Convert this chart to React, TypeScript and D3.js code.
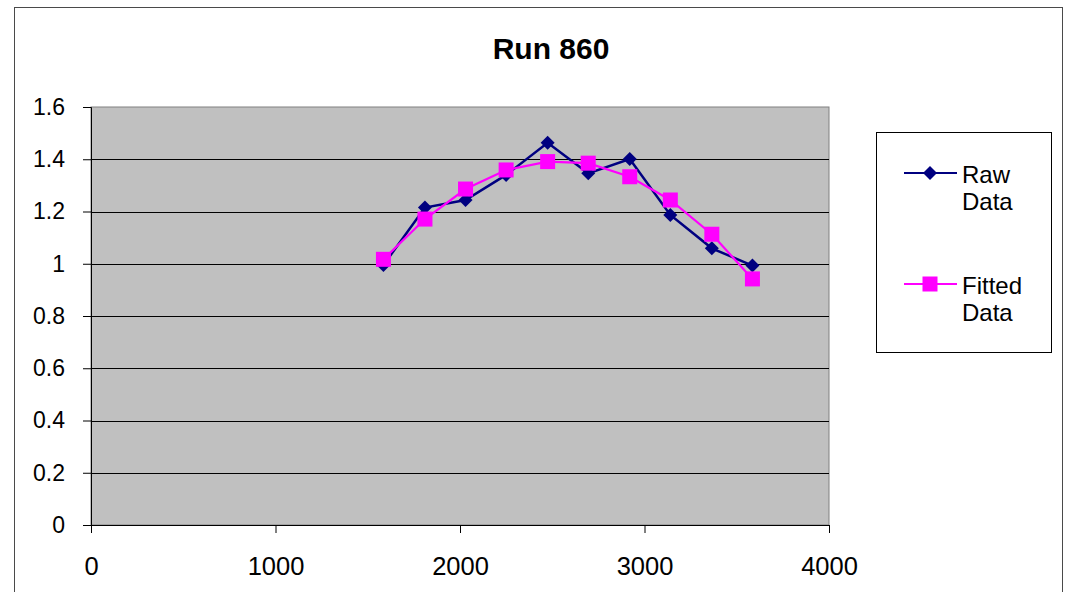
import { useEffect, useRef } from "react";
import * as d3 from "d3";

const RAW_X = [1585, 1810, 2030, 2250, 2475, 2695, 2920, 3140, 3365, 3585];
const RAW_Y = [0.995, 1.215, 1.244, 1.34, 1.463, 1.346, 1.401, 1.187, 1.059, 0.993];
const FIT_Y = [1.017, 1.171, 1.286, 1.359, 1.391, 1.385, 1.333, 1.244, 1.113, 0.942];
const X_TICKS = [0, 1000, 2000, 3000, 4000];
const Y_TICKS = [0, 0.2, 0.4, 0.6, 0.8, 1, 1.2, 1.4, 1.6];

const NAVY = "#000080";
const MAGENTA = "#FF00FF";
const FONT = "'Liberation Sans', Arial, sans-serif";

export default function App() {
  const ref = useRef<SVGSVGElement>(null);

  useEffect(() => {
    if (!ref.current) return;
    const W = 1068, H = 592;
    const L = 91, R = 829, T = 107, B = 525;

    const svg = d3.select(ref.current).attr("width", W).attr("height", H);
    svg.selectAll("*").remove();

    svg.append("rect").attr("width", W).attr("height", H).attr("fill", "#fff");
    // chart border
    svg.append("rect")
      .attr("x", 14.5).attr("y", 7.5).attr("width", 1048).attr("height", 600)
      .attr("fill", "none").attr("stroke", "#4a4a4a").attr("stroke-width", 1);

    const x = d3.scaleLinear().domain([0, 4000]).range([L, R]);
    const y = d3.scaleLinear().domain([0, 1.6]).range([B, T]);

    // plot area
    svg.append("rect")
      .attr("x", L).attr("y", T).attr("width", R - L).attr("height", B - T)
      .attr("fill", "#C0C0C0").attr("stroke", "#808080").attr("stroke-width", 1);

    // grid
    svg.append("g")
      .selectAll("line")
      .data(Y_TICKS.filter(v => v > 0 && v < 1.6))
      .enter().append("line")
      .attr("x1", L).attr("x2", R)
      .attr("y1", d => Math.round(y(d)) + 0.5).attr("y2", d => Math.round(y(d)) + 0.5)
      .attr("stroke", "#000").attr("stroke-width", 1);

    // y axis
    svg.append("g")
      .attr("transform", `translate(${L},0)`)
      .call(d3.axisLeft(y).tickValues(Y_TICKS).tickSize(8).tickPadding(18).tickFormat(d => `${+d}`))
      .call(g => g.select(".domain").attr("stroke", "#000"))
      .call(g => g.selectAll("line").attr("stroke", "#000"))
      .call(g => g.selectAll("text").attr("font-size", 23).attr("font-family", FONT).attr("fill", "#000"));

    // x axis
    svg.append("g")
      .attr("transform", `translate(0,${B})`)
      .call(d3.axisBottom(x).tickValues(X_TICKS).tickSize(8).tickPadding(0).tickFormat(d => `${+d}`))
      .call(g => g.select(".domain").attr("stroke", "#000"))
      .call(g => g.selectAll("line").attr("stroke", "#000"))
      .call(g => g.selectAll("text").attr("dy", null).attr("y", 50)
        .attr("font-size", 25.5).attr("font-family", FONT).attr("fill", "#000"));

    const raw = RAW_X.map((v, i) => ({ x: v, y: RAW_Y[i] }));
    const fit = RAW_X.map((v, i) => ({ x: v, y: FIT_Y[i] }));
    const line = d3.line<{ x: number; y: number }>().x(d => x(d.x)).y(d => y(d.y));

    svg.append("path").datum(raw).attr("d", line)
      .attr("fill", "none").attr("stroke", NAVY).attr("stroke-width", 2.5);
    svg.append("g").selectAll("path").data(raw).enter().append("path")
      .attr("d", "M0,-7L7,0L0,7L-7,0Z")
      .attr("transform", d => `translate(${x(d.x)},${y(d.y)})`)
      .attr("fill", NAVY);

    svg.append("path").datum(fit).attr("d", line)
      .attr("fill", "none").attr("stroke", MAGENTA).attr("stroke-width", 2.2);
    svg.append("g").selectAll("rect").data(fit).enter().append("rect")
      .attr("x", d => x(d.x) - 7.5).attr("y", d => y(d.y) - 7.5)
      .attr("width", 15).attr("height", 15)
      .attr("fill", MAGENTA);

    // title
    svg.append("text")
      .attr("x", 551).attr("y", 59).attr("text-anchor", "middle")
      .attr("font-family", FONT).attr("font-size", 30).attr("font-weight", "bold")
      .text("Run 860");

    // legend
    const lg = svg.append("g");
    lg.append("rect")
      .attr("x", 876.5).attr("y", 132.5).attr("width", 175).attr("height", 220)
      .attr("fill", "#fff").attr("stroke", "#000").attr("stroke-width", 1);
    const items = [
      { label: ["Raw", "Data"], color: NAVY, shape: "diamond", cy: 173 },
      { label: ["Fitted", "Data"], color: MAGENTA, shape: "square", cy: 284 },
    ];
    items.forEach(it => {
      lg.append("line").attr("x1", 904).attr("x2", 957).attr("y1", it.cy).attr("y2", it.cy)
        .attr("stroke", it.color).attr("stroke-width", 2.2);
      if (it.shape === "diamond") {
        lg.append("path").attr("d", "M0,-7L7,0L0,7L-7,0Z")
          .attr("transform", `translate(930,${it.cy})`).attr("fill", it.color);
      } else {
        lg.append("rect").attr("x", 922.5).attr("y", it.cy - 7.5).attr("width", 15).attr("height", 15)
          .attr("fill", it.color);
      }
      it.label.forEach((t, j) => {
        lg.append("text").attr("x", 962).attr("y", it.cy + 9.5 + j * 27.5)
          .attr("font-family", FONT).attr("font-size", 24).attr("fill", "#000").text(t);
      });
    });
  }, []);

  return (
    <div style={{ position: "fixed", left: 0, top: 0 }}>
      <svg ref={ref} style={{ display: "block" }} />
    </div>
  );
}
